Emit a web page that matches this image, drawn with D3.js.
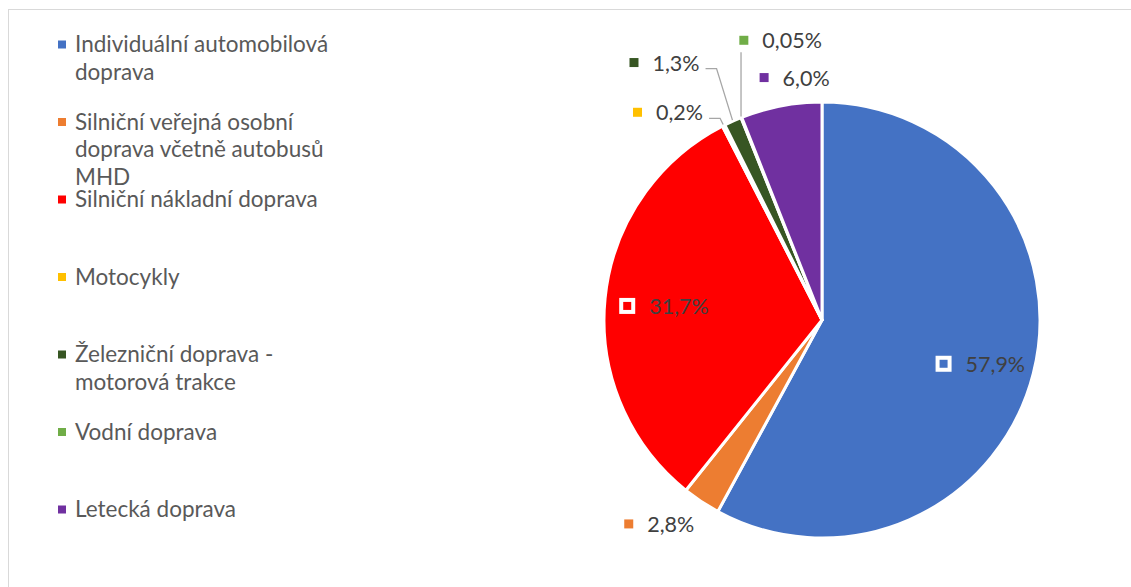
<!DOCTYPE html>
<html>
<head>
<meta charset="utf-8">
<script src="https://cdn.jsdelivr.net/npm/d3@7"></script>
<style>
  body { margin: 0; background: #fff; }
  text { font-family: Lato, "Noto Sans", sans-serif; }
</style>
</head>
<body>
<svg id="chart" width="1131" height="587"></svg>
<script>
// Categories (legend order = slice order, clockwise from 12 o'clock)
const categories = [
  "Individuální automobilová doprava",
  "Silniční veřejná osobní doprava včetně autobusů MHD",
  "Silniční nákladní doprava",
  "Motocykly",
  "Železniční doprava - motorová trakce",
  "Vodní doprava",
  "Letecká doprava"
];
// Share of each category, in percent
const shares = [57.9, 2.8, 31.7, 0.2, 1.3, 0.05, 6.0];
// Slice colours
const colors = ["#4472C4", "#ED7D31", "#FF0000", "#FFC000", "#375623", "#70AD47", "#7030A0"];

// Label placement: inside labels sit on an inner ring, outside ones on an outer ring,
// each with a small nudge; small slices get a leader line back to the pie.
const labelLayout = [
  { inside: true,  nudge: [2, 4] },
  { inside: false, nudge: [-20, -11] },
  { inside: true,  nudge: [2.5, 2] },
  { inside: false, nudge: [-37.5, 22.5], leader: "side" },
  { inside: false, nudge: [-52, -22],    leader: "side" },
  { inside: false, nudge: [54, -40],     leader: "below" },
  { inside: false, nudge: [21, 11] }
];

const W = 1131, H = 587;
const svg = d3.select("#chart");

// Chart area border
svg.append("rect")
  .attr("x", 8.5).attr("y", 9.5)
  .attr("width", W + 10).attr("height", H + 10)
  .attr("fill", "none").attr("stroke", "#d9d9d9").attr("stroke-width", 1);

// ---- Pie ----
const cx = 822, cy = 320, R = 218;
const pie = d3.pie().sort(null).value(d => d)(shares);
const arc = d3.arc().innerRadius(0).outerRadius(R);
const g = svg.append("g").attr("transform", `translate(${cx},${cy})`);

g.selectAll("path.slice")
  .data(pie)
  .join("path")
  .attr("class", "slice")
  .attr("d", arc)
  .attr("fill", (d, i) => colors[i])
  .attr("stroke", "#fff")
  .attr("stroke-width", 3)
  .attr("stroke-linejoin", "round");

// ---- Data labels ----
const fmt = v => (v < 0.1 ? d3.format(".2f")(v) : d3.format(".1f")(v)).replace(".", ",") + "%";
const labelFont = 21.5;
const innerRing = d3.arc().innerRadius(R * 0.74).outerRadius(R * 0.74);
const outerRing = d3.arc().innerRadius(R + 40).outerRadius(R + 40);
const edgeRing  = d3.arc().innerRadius(R + 1).outerRadius(R + 1);

const markerSize = 9, boxSize = 12, gap = 14;

pie.forEach((d, i) => {
  const lay = labelLayout[i];
  const base = (lay.inside ? innerRing : outerRing).centroid(d);
  const c = [base[0] + lay.nudge[0], base[1] + lay.nudge[1]];
  const lg = g.append("g");
  const txt = lg.append("text")
    .attr("font-size", labelFont)
    .attr("fill", "#404040")
    .attr("dominant-baseline", "central")
    .text(fmt(d.data));
  const tw = txt.node().getComputedTextLength();
  const mw = lay.inside ? boxSize + 4 : markerSize;
  const total = mw + gap + tw;
  const left = c[0] - total / 2;
  txt.attr("x", left + mw + gap).attr("y", c[1]);
  if (lay.inside) {
    lg.append("rect")
      .attr("x", left + 2).attr("y", c[1] - boxSize / 2)
      .attr("width", boxSize).attr("height", boxSize)
      .attr("fill", colors[i]).attr("stroke", "#fff").attr("stroke-width", 4);
  } else {
    lg.append("rect")
      .attr("x", left).attr("y", c[1] - markerSize / 2)
      .attr("width", markerSize).attr("height", markerSize)
      .attr("fill", colors[i]);
  }
  if (lay.leader) {
    const p = edgeRing.centroid(d);
    let pts;
    if (lay.leader === "side") {
      const right = left + total;
      pts = [[right + 6, c[1] + 6], [right + 17, c[1] + 6], p];
    } else {
      pts = [[p[0], c[1] + 12], p];
    }
    g.append("path")
      .attr("d", d3.line()(pts))
      .attr("fill", "none")
      .attr("stroke", "#a6a6a6")
      .attr("stroke-width", 1.3);
  }
});

// ---- Legend ----
const legendX = 58, legendTextX = 75, legendTop = 52, legendStep = 77.5, lineH = 27.5;
const legendFont = 22.5, wrapWidth = 272;
const legend = svg.append("g");

categories.forEach((name, i) => {
  const y0 = legendTop + i * legendStep;
  legend.append("rect")
    .attr("x", legendX).attr("y", y0 - 7.5 - 4)
    .attr("width", 8).attr("height", 8)
    .attr("fill", colors[i]);
  const t = legend.append("text")
    .attr("font-size", legendFont)
    .attr("fill", "#595959");
  // wrap words into lines no wider than wrapWidth
  const words = name.split(" ");
  let line = [], lineNo = 0;
  let ts = t.append("tspan").attr("x", legendTextX).attr("y", y0);
  words.forEach(w => {
    line.push(w);
    ts.text(line.join(" "));
    if (ts.node().getComputedTextLength() > wrapWidth && line.length > 1) {
      line.pop();
      ts.text(line.join(" "));
      line = [w];
      lineNo++;
      ts = t.append("tspan").attr("x", legendTextX).attr("y", y0 + lineNo * lineH).text(w);
    }
  });
});
</script>
</body>
</html>
